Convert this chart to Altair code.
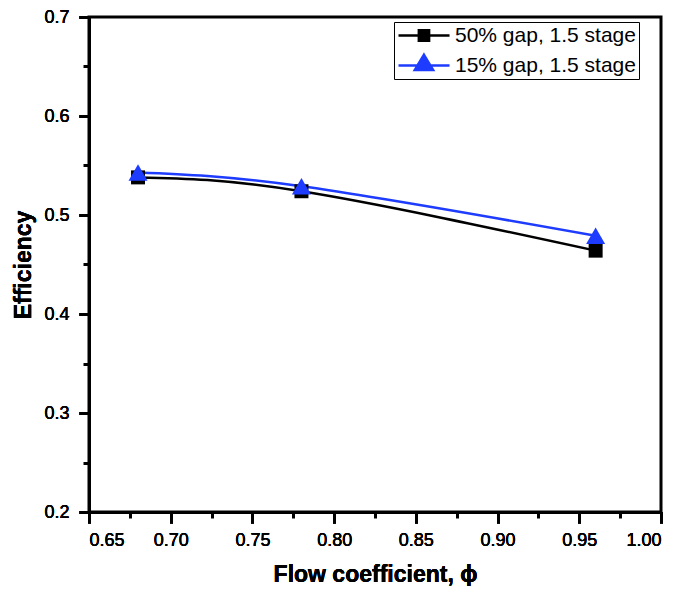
import altair as alt
import pandas as pd

# ---- data ----
phi = [0.68, 0.78, 0.96]
eff_50 = [0.538, 0.524, 0.464]
eff_15 = [0.543, 0.529, 0.479]
series = ["50% gap, 1.5 stage", "15% gap, 1.5 stage"]
colors = ["#000000", "#1E3CFF"]

x_major = [0.65, 0.70, 0.75, 0.80, 0.85, 0.90, 0.95, 1.00]
x_minor = [0.65, 0.675, 0.70, 0.725, 0.75, 0.775, 0.80, 0.825, 0.85, 0.875, 0.90, 0.925, 0.95, 0.975, 1.00]
y_major = [0.2, 0.3, 0.4, 0.5, 0.6, 0.7]
y_minor = [0.2, 0.25, 0.3, 0.35, 0.4, 0.45, 0.5, 0.55, 0.6, 0.65, 0.7]

df = pd.DataFrame({
    "phi": phi + phi,
    "eff": eff_50 + eff_15,
    "series": [series[0]] * len(phi) + [series[1]] * len(phi),
})

FONT = "Liberation Sans"

# legend symbols: a line segment with the marker on it (unit = 9 px)
sq_path = "M-1,0H4.67M1.26,-0.57H2.4V0.57H1.26Z"
tri_path = "M-1,0H4.67M1.83,-1.19L2.85,0.51L0.81,0.51Z"

legend = alt.Legend(
    orient="none", legendX=305, legendY=5, title=None,
    labelFontSize=21, labelFont=FONT, labelColor="black", labelLimit=400,
    symbolSize=324, symbolStrokeWidth=2.5, symbolOpacity=1,
    strokeColor="black", padding=3, rowPadding=3, labelOffset=37,
)

xscale = alt.Scale(domain=[0.65, 1.0], nice=False, zero=False)
yscale = alt.Scale(domain=[0.2, 0.7], nice=False, zero=False)

x_axis = alt.Axis(values=x_major, format=".2f", tickSize=11, labelPadding=8,
                  title="Flow coefficient, ϕ", titleFontSize=23, titleFontWeight="bold",
                  titlePadding=14, orient="bottom")
y_axis = alt.Axis(values=y_major, format=".1f", tickSize=10, labelPadding=10,
                  title="Efficiency", titleFontSize=23, titleFontWeight="bold",
                  titlePadding=8, orient="left")

X = alt.X("phi:Q", scale=xscale, axis=x_axis)
Y = alt.Y("eff:Q", scale=yscale, axis=y_axis)

marker_shape = ["square", "triangle-up"]
marker_size = [196, 361]

layers = []
minor = alt.Chart(df).mark_point(opacity=0).encode(
    x=alt.X("phi:Q", scale=xscale, title=None,
            axis=alt.Axis(values=x_minor, labels=False, tickSize=6, domain=False, orient="bottom")),
    y=alt.Y("eff:Q", scale=yscale, title=None,
            axis=alt.Axis(values=y_minor, labels=False, tickSize=6, domain=False, orient="left")),
)
layers.append(minor)

for i, s in enumerate(series):
    layers.append(
        alt.Chart(df).transform_filter(alt.datum.series == s)
        .mark_line(interpolate="natural", strokeWidth=2.5, color=colors[i])
        .encode(x=X, y=Y)
    )
for i, s in enumerate(series):
    layers.append(
        alt.Chart(df).transform_filter(alt.datum.series == s)
        .mark_point(filled=True, opacity=1, shape=marker_shape[i], size=marker_size[i], color=colors[i])
        .encode(x=X, y=Y)
    )

# invisible layer that only carries the legend (marks placed outside the clipped view)
legend_layer = alt.Chart(df).mark_point(filled=True, clip=True).encode(
    x=alt.value(-500), y=alt.value(-500),
    fill=alt.Fill("series:N", scale=alt.Scale(domain=series, range=colors), legend=legend),
    stroke=alt.Stroke("series:N", scale=alt.Scale(domain=series, range=colors), legend=legend),
    shape=alt.Shape("series:N", scale=alt.Scale(domain=series, range=[sq_path, tri_path]), legend=legend),
)
layers.append(legend_layer)

chart = alt.layer(*layers).resolve_axis(
    x="independent", y="independent"
).properties(
    width=572, height=495,
    padding={"left": 81, "top": 9, "right": 16, "bottom": 74},
    autosize="none",
).configure_view(
    stroke="black", strokeWidth=3
).configure_axis(
    grid=False, domainColor="black", domainWidth=3, tickColor="black", tickWidth=3,
    labelFont=FONT, labelFontSize=18, labelColor="black",
    titleFont=FONT, titleColor="black",
).configure_legend(
    labelFont=FONT
)

chart.save("out.html", embed_options={"renderer": "svg", "actions": False})
